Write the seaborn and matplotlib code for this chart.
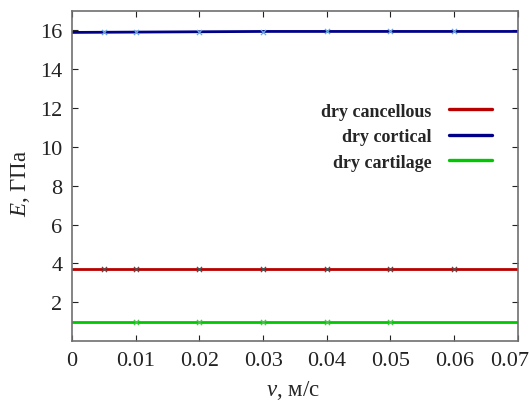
import matplotlib
matplotlib.use("Agg")
import matplotlib.pyplot as plt
import matplotlib.transforms as mtransforms
import seaborn as sns
import pandas as pd

# ---- data ----
v_line = [0.0, 0.03, 0.07]
E_cancellous_line = [3.7, 3.7, 3.7]
E_cortical_line = [15.9, 15.95, 15.95]
E_cartilage_line = [1.0, 1.0, 1.0]

v_pts = [0.005, 0.01, 0.02, 0.03, 0.04, 0.05, 0.06]
E_cancellous_pts = [3.7, 3.7, 3.7, 3.7, 3.7, 3.7, 3.7]
E_cortical_pts = [15.9, 15.9, 15.9, 15.93, 15.95, 15.95, 15.95]
v_cart_pts = [0.01, 0.02, 0.03, 0.04, 0.05]
E_cartilage_pts = [1.0, 1.0, 1.0, 1.0, 1.0]

labels = ["dry cancellous", "dry cortical", "dry cartilage"]
line_colors = ["#b80000", "#000088", "#00c800"]
marker_colors = ["#505050", "#6aaae0", "#50c050"]

x_ticks = [0, 0.01, 0.02, 0.03, 0.04, 0.05, 0.06, 0.07]
x_ticklabels = ["0", "0.01", "0.02", "0.03", "0.04", "0.05", "0.06", "0.07"]
y_ticks = [2, 4, 6, 8, 10, 12, 14, 16]

sns.set_theme(style="ticks")
plt.rcParams["font.family"] = ["Liberation Serif", "DejaVu Serif"]
plt.rcParams["mathtext.fontset"] = "custom"
plt.rcParams["mathtext.it"] = "Liberation Serif:italic"
plt.rcParams["mathtext.rm"] = "Liberation Serif"

fig = plt.figure(figsize=(5.30, 4.02), dpi=100)
ax = fig.add_axes([0.136, 0.149, 0.841, 0.821])

lines_df = pd.concat([
    pd.DataFrame({"v": v_line, "E": E_cancellous_line, "s": labels[0]}),
    pd.DataFrame({"v": v_line, "E": E_cortical_line, "s": labels[1]}),
    pd.DataFrame({"v": v_line, "E": E_cartilage_line, "s": labels[2]}),
])
sns.lineplot(data=lines_df, x="v", y="E", hue="s", palette=line_colors,
             linewidth=2.0, ax=ax, legend=True, sort=True, estimator=None)

pts = [(v_pts, E_cancellous_pts), (v_pts, E_cortical_pts), (v_cart_pts, E_cartilage_pts)]
for (xs, ys), mc in zip(pts, marker_colors):
    sns.scatterplot(x=xs, y=ys, marker="x", s=14, color=mc, linewidth=0.9,
                    ax=ax, legend=False, zorder=3)

ax.set_xlim(0, 0.07)
ax.set_ylim(0, 17)
ax.set_xticks(x_ticks)
ax.set_xticklabels(x_ticklabels)
ax.set_yticks(y_ticks)
ax.tick_params(direction="in", length=4, width=0.8, top=True, right=True,
               labelsize=16, colors="#222222", pad=7)
ax.tick_params(axis="y", pad=7)
for sp in ax.spines.values():
    sp.set_color("#707070")
    sp.set_linewidth(1.2)

# keep the last x tick label inside the figure
last = ax.get_xticklabels()[-1]
last.set_transform(last.get_transform() +
                   mtransforms.ScaledTranslation(-8 / 100, 0, fig.dpi_scale_trans))

ax.set_xlabel(r"$v$, м/с", fontsize=16.5)
ax.set_ylabel(r"$E$, ГПа", fontsize=16.5)
ax.xaxis.set_label_coords(0.495, -0.113)
ax.yaxis.set_label_coords(-0.09, 0.48)

leg = ax.legend(loc="upper right", bbox_to_anchor=(0.942, 0.722),
                markerfirst=False, frameon=False,
                handlelength=2.4, handletextpad=0.95, labelspacing=0.47,
                borderaxespad=0, borderpad=0,
                prop={"weight": "bold", "size": 13})
for h in leg.get_lines():
    h.set_linewidth(2.4)

fig.savefig("out.png", dpi=100)
